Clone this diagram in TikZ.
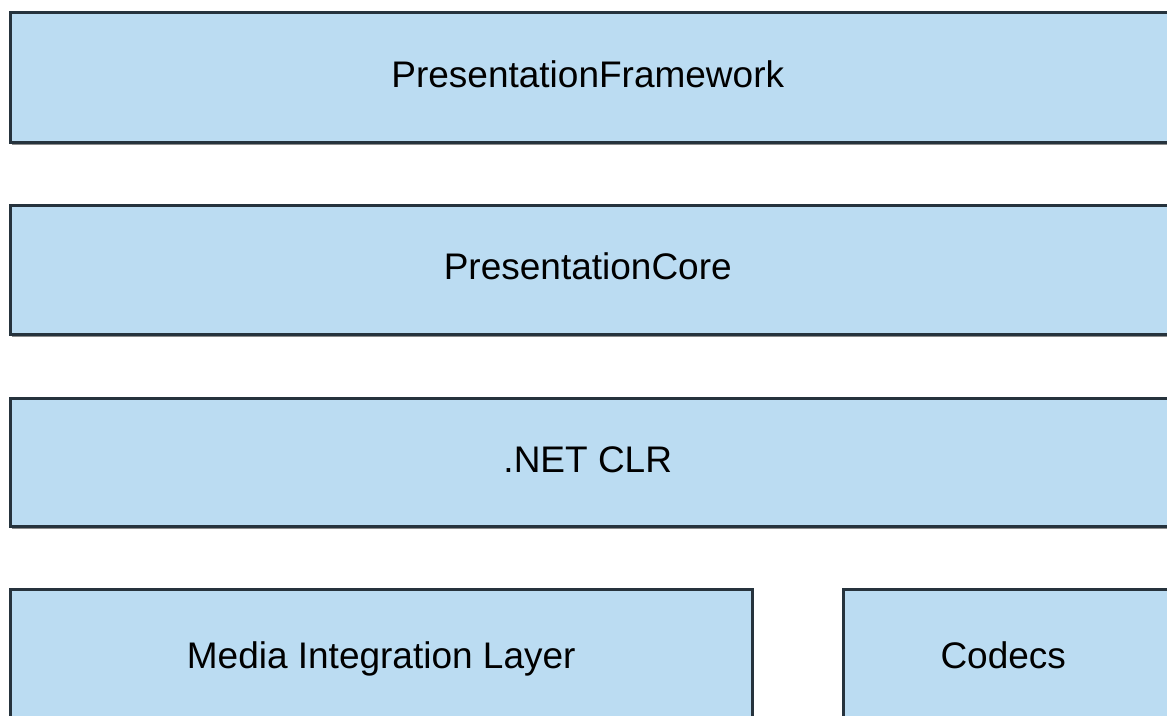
\documentclass[tikz,border=0pt]{standalone}
\usepackage{fontspec}
\setmainfont{Liberation Sans}
\usetikzlibrary{shadows}
\definecolor{boxfill}{HTML}{BBDCF2}
\definecolor{boxline}{HTML}{26333D}
\tikzset{
  layer/.style={draw=boxline, line width=2.5pt, fill=boxfill, rectangle, anchor=north west,
    inner sep=0pt, font=\fontsize{37}{44}\selectfont, text=black,
    text height=20pt, text depth=0pt,
    drop shadow={shadow xshift=1.5pt, shadow yshift=-3pt, opacity=0.6, fill=black!75}},
  cutright/.style={execute at begin node={\hspace*{-10pt}}}
}
\begin{document}
\begin{tikzpicture}[x=1pt,y=-1pt]
\useasboundingbox (0,0) rectangle (1167,715);
\clip (0,0) rectangle (1167,715);
\fill[white] (0,0) rectangle (1167,715);
\node[layer, cutright, minimum width=1165pt, minimum height=130pt] (pf) at (9,11) {PresentationFramework};
\node[layer, cutright, minimum width=1165pt, minimum height=129pt] (pc) at (9,204) {PresentationCore};
\node[layer, cutright, minimum width=1165pt, minimum height=128pt] (clr) at (9,397) {.NET CLR};
\node[layer, minimum width=742pt, minimum height=138pt] (mil) at (9,588) {Media Integration Layer};
\node[layer, cutright, minimum width=330pt, minimum height=138pt] (codecs) at (842,588) {Codecs};
\end{tikzpicture}
\end{document}
